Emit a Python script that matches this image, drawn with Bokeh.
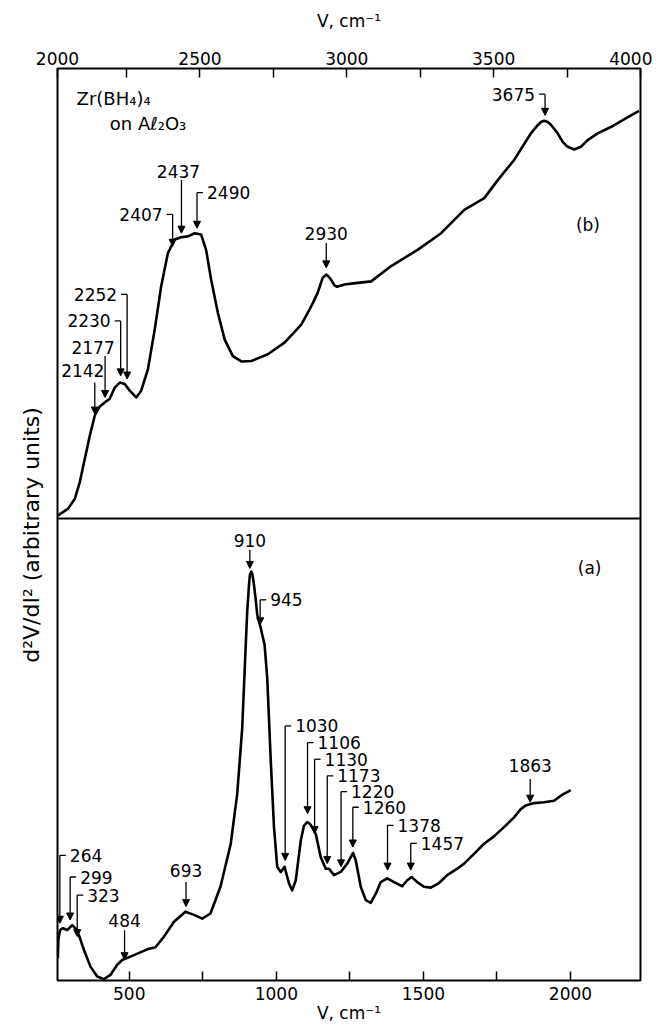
from bokeh.plotting import figure
from bokeh.models import (Range1d, LinearAxis, FixedTicker, Span, Arrow, NormalHead,
                          ColumnDataSource, Label)
from bokeh.core.properties import value, field
from bokeh.embed import file_html
from bokeh.resources import INLINE

# ---------------- data: panel (a), 250-2000 cm^-1 ----------------
a_wavenumber = [257, 259, 264, 268, 275, 289, 306, 317, 329, 346, 368, 391, 414, 436,
                459, 476, 516, 561, 589, 618, 652, 691, 720, 748, 776, 810, 845,
                867, 884, 896, 901, 907, 910, 915, 919, 924, 930, 935, 941, 947, 952,
                960, 969, 981, 992, 1003,
                1015, 1028, 1043, 1054, 1066, 1083, 1094, 1105, 1114, 1122, 1134, 1151, 1168,
                1179, 1196, 1219, 1241, 1261, 1270, 1287, 1304, 1321, 1338, 1355,
                1377, 1400, 1428, 1445, 1460, 1479, 1502, 1525, 1553, 1581, 1615,
                1638, 1672, 1706, 1740, 1774, 1808, 1831, 1848, 1876, 1910, 1944,
                1967, 2001]
a_signal = [4.8, 8.8, 10.8, 11.1, 11.3, 10.9, 12.0, 11.3, 9.8, 6.6, 3.0, 0.85, 0.3, 1.2,
            3.4, 4.45, 5.5, 6.75, 7.2, 9.5, 12.7, 14.9, 14.2, 13.4, 14.5, 20.3, 29.6,
            40.4, 54.7, 72.7, 79.9, 85.6, 87.8, 88.5, 87.8, 85.6, 82.4, 79.2, 77.7, 76.3, 74.9,
            72.7, 65.5, 47.6, 33.2, 24.6,
            23.5, 24.6, 21.0, 19.5, 21.7, 30.3, 33.5, 34.3, 33.9, 33.2, 31.7, 26.7, 24.2,
            24.2, 22.8, 23.5, 25.3, 27.6, 26.0, 20.3, 17.4, 16.8, 18.8, 21.3,
            22.1, 21.3, 20.4, 21.7, 22.4, 21.3, 20.3, 20.1, 21.1, 22.8, 24.2,
            25.3, 27.4, 29.6, 31.2, 33.2, 35.3, 37.1, 37.9, 38.4, 38.6, 38.9,
            40.0, 41.2]

# ---------------- data: panel (b), 2000-4000 cm^-1 ----------------
b_wavenumber = [2017, 2051, 2074, 2091, 2108, 2125, 2142, 2159, 2176, 2193, 2210, 2227,
                2244, 2261, 2283, 2300, 2323, 2346, 2368, 2391, 2414, 2436, 2459,
                2482, 2504, 2521, 2538, 2561, 2584, 2612, 2641, 2675, 2731, 2788,
                2845, 2867, 2884, 2901, 2918, 2930, 2938, 2947, 2958, 2967, 2992,
                3015, 3083, 3151, 3241, 3321, 3400, 3468, 3514, 3570, 3627, 3650,
                3661, 3672, 3684, 3695, 3718, 3735, 3752, 3774, 3797, 3820, 3854,
                3899, 3944, 3995]
b_signal = [0.7, 2.2, 4.4, 8.1, 13.3, 18.4, 22.9, 24.9, 25.8, 26.6, 29.1, 30.2,
            29.9, 28.4, 26.9, 28.4, 33.2, 42.0, 51.6, 59.0, 62.0, 62.5, 62.7,
            63.4, 63.1, 59.7, 53.1, 45.7, 39.8, 36.1, 34.9, 35.0, 36.5, 39.1,
            43.1, 45.7, 47.8, 50.2, 53.5, 54.2, 53.8, 53.0, 51.8, 51.5, 52.0,
            52.2, 52.7, 56.1, 59.7, 63.4, 68.6, 71.2, 75.2, 79.7, 85.6, 87.4,
            88.1, 88.4, 88.1, 87.5, 85.6, 83.7, 82.6, 82.0, 82.6, 84.1, 85.6,
            87.0, 88.7, 90.6]

# ---------------- peak assignments ----------------
a_peaks = [264, 299, 323, 484, 693, 910, 945, 1030, 1106, 1130, 1173, 1220, 1260,
           1378, 1457, 1863]
b_peaks = [2142, 2177, 2230, 2252, 2407, 2437, 2490, 2930, 3675]

# ---------------- ticks ----------------
a_ticks = [500, 750, 1000, 1250, 1500, 1750, 2000]
a_tick_labels = ["500", "", "1000", "", "1500", "", "2000"]
# the reference labels the left frame edge "2000"
b_ticks = [2015, 2250, 2500, 2750, 3000, 3250, 3500, 3750, 4000]
b_tick_labels = ["2000", "", "2500", "", "3000", "", "3500", "", "4000"]

# ---------------- annotation layout (arrow tip / stem top / label) ----------------
# style: R = bracket to the right, L = bracket to the left, C = label centred above
a_style = ["R", "R", "R", "C", "C", "C", "R", "R", "R", "R", "R", "R", "R", "R", "R", "C"]
a_tip = [12.4, 13.1, 9.5, 4.5, 16.0, 89.2, 77.0, 26.0, 36.1, 31.8, 25.3, 24.6, 28.9,
         23.9, 23.9, 38.6]
a_top = [27.1, 22.4, 18.5, 10.9, 21.3, 93.2, 82.4, 55.1, 51.5, 47.9, 44.3, 40.9, 37.5,
         33.6, 29.7, 43.6]
a_lab_y = [27.1, 22.4, 18.5, 12.9, 23.8, 95.3, 82.4, 55.1, 51.5, 47.9, 44.3, 40.9, 37.5,
           33.6, 29.7, 46.5]
a_lab_dx = [0] * 16

b_style = ["C", "C", "L", "L", "L", "C", "R", "C", "L"]
b_tip = [23.2, 26.9, 31.7, 31.0, 60.5, 63.4, 64.5, 55.7, 89.6]
b_top = [30.2, 36.1, 43.9, 49.8, 67.6, 75.2, 72.4, 61.2, 94.3]
b_lab_y = [32.8, 38.1, 43.9, 49.8, 67.6, 77.1, 72.4, 63.4, 94.3]
b_lab_dx = [-12, -12, 0, 0, 0, -3, 0, 0, 0]

FONT = "DejaVu Sans"
FS = "17px"
FRAME_W, FRAME_H = 583, 912
A_SHARE = 464 / 916   # fraction of frame height used by panel (a)
B_SHARE = 452 / 916

a_xr = Range1d(256, 2238)
b_xr = Range1d(2015, 4000)
a_yr = Range1d(0, 100 / A_SHARE)
b_yr = Range1d(-100 * A_SHARE / B_SHARE, 100)

p = figure(frame_width=FRAME_W, frame_height=FRAME_H, x_range=a_xr, y_range=a_yr,
           extra_x_ranges={"b": b_xr}, extra_y_ranges={"b": b_yr},
           output_backend="svg", toolbar_location=None,
           min_border_left=57, min_border_right=12, min_border_top=68, min_border_bottom=0,
           background_fill_color="white", border_fill_color="white")
p.xgrid.visible = False
p.ygrid.visible = False
p.outline_line_color = "black"
p.outline_line_width = 2
p.outline_line_alpha = 1


def style_axis(ax):
    ax.axis_line_color = None
    ax.major_tick_in = 9
    ax.major_tick_out = 0
    ax.major_tick_line_width = 1.5
    ax.major_tick_line_color = "black"
    ax.minor_tick_line_color = None
    ax.major_label_text_font = FONT
    ax.major_label_text_font_size = FS
    ax.major_label_text_color = "black"
    ax.axis_label_text_font = FONT
    ax.axis_label_text_font_size = FS
    ax.axis_label_text_font_style = "normal"
    ax.axis_label_text_color = "black"


# bottom axis (a)
xa = p.xaxis[0]
style_axis(xa)
xa.ticker = FixedTicker(ticks=a_ticks)
xa.major_label_overrides = {t: l for t, l in zip(a_ticks, a_tick_labels)}
xa.major_label_standoff = 6
xa.axis_label = "V, cm⁻¹"
xa.axis_label_standoff = 0

# top axis (b)
xb = LinearAxis(x_range_name="b")
style_axis(xb)
xb.ticker = FixedTicker(ticks=b_ticks)
xb.major_label_overrides = {t: l for t, l in zip(b_ticks, b_tick_labels)}
xb.major_label_standoff = 4
xb.axis_label = "V, cm⁻¹"
xb.axis_label_standoff = 18
p.add_layout(xb, "above")

# left axis: label only
ya = p.yaxis[0]
style_axis(ya)
ya.ticker = FixedTicker(ticks=[])
ya.axis_label = "d²V/dI²   (arbitrary  units)"
ya.axis_label_standoff = 14
ya.axis_label_text_font_size = "22px"

# panel separator
p.add_layout(Span(location=100, dimension="width", line_color="black", line_width=2))

# curves
p.line(a_wavenumber, a_signal, line_color="black", line_width=2.6, line_join="round")
p.line(b_wavenumber, b_signal, line_color="black", line_width=2.6, line_join="round",
       x_range_name="b", y_range_name="b")


def annotate(peaks, style, tip, top, lab_y, lab_dx, xr, xname, yname):
    upx = (xr.end - xr.start) / FRAME_W
    sign = {"R": 1, "L": -1, "C": 0}
    src = ColumnDataSource(dict(x=peaks, tip=tip, top=top))
    kw = {} if xname is None else dict(x_range_name=xname, y_range_name=yname)
    p.add_layout(Arrow(source=src, x_start="x", y_start="top", x_end="x", y_end="tip",
                       line_color="black", line_width=1.3,
                       end=NormalHead(size=7, fill_color="black", line_color="black",
                                      line_width=1), **kw))
    br = [(x, t, x + sign[s] * 6 * upx) for x, t, s in zip(peaks, top, style) if s != "C"]
    p.segment([b[0] for b in br], [b[1] for b in br], [b[2] for b in br], [b[1] for b in br],
              line_color="black", line_width=1.3, **kw)
    align = {"R": "left", "L": "right", "C": "center"}
    xoff = [{"R": 10, "L": -10, "C": 0}[s] + d for s, d in zip(style, lab_dx)]
    tsrc = ColumnDataSource(dict(x=peaks, y=lab_y, text=[str(v) for v in peaks],
                                 align=[align[s] for s in style], xoff=xoff))
    p.text(x="x", y="y", text="text", source=tsrc, text_font=value(FONT),
           text_font_size=value(FS), text_align=field("align"), text_baseline="middle",
           x_offset=field("xoff"), text_color="black", **kw)


annotate(a_peaks, a_style, a_tip, a_top, a_lab_y, a_lab_dx, a_xr, None, None)
annotate(b_peaks, b_style, b_tip, b_top, b_lab_y, b_lab_dx, b_xr, "b", "b")

# panel texts
p.add_layout(Label(x=2080, y=93.4, x_range_name="b", y_range_name="b", text="Zr(BH₄)₄",
                   text_baseline="middle", text_font=FONT, text_font_size="18px",
                   text_color="black"))
p.add_layout(Label(x=2193, y=87.8, x_range_name="b", y_range_name="b", text="on Aℓ₂O₃",
                   text_baseline="middle", text_font=FONT, text_font_size="18px",
                   text_color="black"))
p.add_layout(Label(x=3821, y=65.3, x_range_name="b", y_range_name="b", text="(b)",
                   text_align="center", text_baseline="middle", text_font=FONT,
                   text_font_size=FS, text_color="black"))
p.add_layout(Label(x=2065, y=89.2, text="(a)", text_align="center", text_baseline="middle",
                   text_font=FONT, text_font_size=FS, text_color="black"))

open("out.html", "w").write(file_html(p, INLINE))
